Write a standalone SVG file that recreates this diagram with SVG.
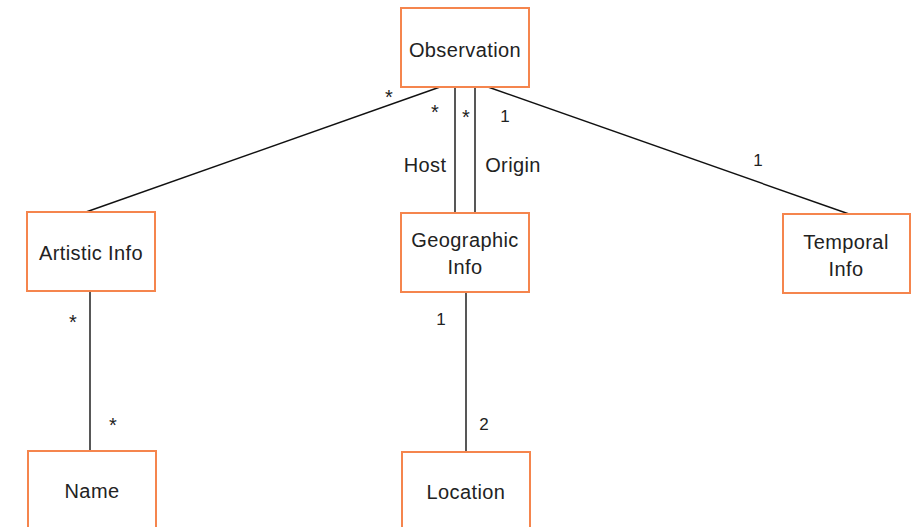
<svg xmlns="http://www.w3.org/2000/svg" width="911" height="527" viewBox="0 0 911 527">
<style>
.box{fill:#fff;stroke:#f5854d;stroke-width:2}
.t{font-family:"Liberation Sans",Arial,sans-serif;font-size:20px;fill:#222;text-anchor:middle;letter-spacing:0.4px}
.m{font-family:"Liberation Sans",Arial,sans-serif;font-size:17px;fill:#222;text-anchor:middle}
.s{font-family:"Liberation Sans",Arial,sans-serif;font-size:20px;fill:#222;text-anchor:middle}
.c{stroke:#111;stroke-width:1.4;fill:none}
</style>
<rect width="911" height="527" fill="#fff"/>
<g id="connectors">
<line class="c" x1="440" y1="87" x2="86" y2="212"/>
<line class="c" x1="455" y1="87" x2="455" y2="213"/>
<line class="c" x1="475" y1="87" x2="475" y2="213"/>
<line class="c" x1="488" y1="87" x2="849" y2="214"/>
<line class="c" x1="90" y1="291" x2="90" y2="451"/>
<line class="c" x1="466" y1="292" x2="466" y2="452"/>
<text class="s" x="389" y="104">*</text>
<text class="s" x="435" y="119">*</text>
<text class="s" x="466" y="124">*</text>
<text class="m" x="505" y="122">1</text>
<text class="t" x="425" y="172">Host</text>
<text class="t" x="513" y="172">Origin</text>
<text class="m" x="758" y="166">1</text>
<text class="s" x="73" y="329">*</text>
<text class="s" x="113" y="432">*</text>
<text class="m" x="441" y="325">1</text>
<text class="m" x="484" y="430">2</text>
</g>
<g id="observation">
<rect class="box" x="401" y="8" width="128" height="79"/>
<text class="t" x="465" y="57">Observation</text>
</g>
<g id="artistic-info">
<rect class="box" x="27" y="212" width="128" height="79"/>
<text class="t" x="91" y="260">Artistic Info</text>
</g>
<g id="geographic-info">
<rect class="box" x="401" y="213" width="128" height="79"/>
<text class="t" x="465" y="247">Geographic</text>
<text class="t" x="465" y="274">Info</text>
</g>
<g id="temporal-info">
<rect class="box" x="783" y="214" width="127" height="79"/>
<text class="t" x="846" y="249">Temporal</text>
<text class="t" x="846" y="276">Info</text>
</g>
<g id="name">
<rect class="box" x="28" y="451" width="128" height="90"/>
<text class="t" x="92" y="498">Name</text>
</g>
<g id="location">
<rect class="box" x="402" y="452" width="128" height="90"/>
<text class="t" x="466" y="499">Location</text>
</g>
</svg>
